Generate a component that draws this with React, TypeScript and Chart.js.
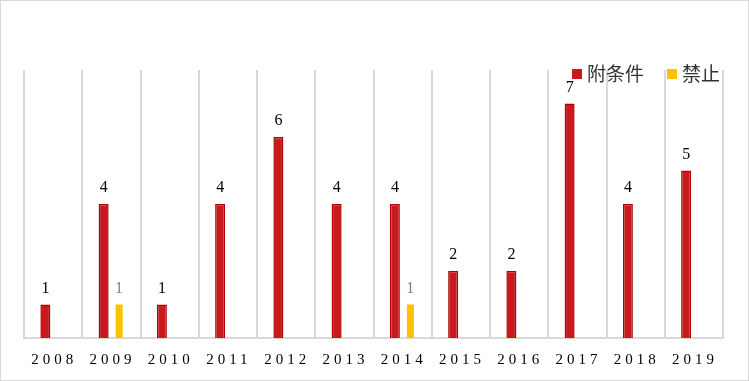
import React, { useEffect, useRef } from "react";
import { Chart, registerables } from "chart.js";

Chart.register(...registerables);

const years = ["2008", "2009", "2010", "2011", "2012", "2013", "2014", "2015", "2016", "2017", "2018", "2019"];
const conditional = [1, 4, 1, 4, 6, 4, 4, 2, 2, 7, 4, 5];
const banned = [null, 1, null, null, null, null, 1, null, null, null, null, null];
const seriesNames = ["附条件", "禁止"];
const seriesColors = ["#C8191C", "#FFC000"];
const labelColors = ["#000000", "#808080"];
const yMax = 8;

const labelPlugin = {
  id: "customLabels",
  afterDatasetsDraw(chart: any) {
    const ctx = chart.ctx;
    ctx.save();
    ctx.font = "16px 'Liberation Serif', 'Times New Roman', serif";
    ctx.textAlign = "center";
    ctx.textBaseline = "alphabetic";
    chart.data.datasets.forEach((ds: any, i: number) => {
      const meta = chart.getDatasetMeta(i);
      meta.data.forEach((el: any, j: number) => {
        const v = ds.data[j];
        if (v === null || v === undefined) return;
        ctx.fillStyle = labelColors[i];
        ctx.fillText(String(v), el.x, el.y - 12);
      });
    });
    ctx.restore();
  },
  afterDraw(chart: any) {
    const ctx = chart.ctx;
    const xs = chart.scales.x;
    const area = chart.chartArea;
    ctx.save();
    ctx.font = "15px 'Liberation Serif', 'Times New Roman', serif";
    ctx.fillStyle = "#000000";
    ctx.textAlign = "center";
    ctx.textBaseline = "middle";
    const sp = 4;
    try { (ctx as any).letterSpacing = sp + "px"; } catch (e) {}
    years.forEach((y, i) => {
      const x = xs.getPixelForValue(i);
      ctx.fillText(y, x + sp / 2 - 1, area.bottom + 22);
    });
    try { (ctx as any).letterSpacing = "0px"; } catch (e) {}
    ctx.font = "19px 'Noto Sans CJK SC', sans-serif";
    ctx.textAlign = "left";
    ctx.textBaseline = "middle";
    const ly = area.top + 4;
    const items = [
      { x: 571, name: seriesNames[0], color: seriesColors[0] },
      { x: 666, name: seriesNames[1], color: seriesColors[1] },
    ];
    items.forEach((it) => {
      ctx.fillStyle = it.color;
      ctx.fillRect(it.x, ly - 5, 10, 10);
      ctx.fillStyle = "#333333";
      ctx.fillText(it.name, it.x + 15, ly);
    });
    ctx.restore();
  },
};

export default function App() {
  const ref = useRef<HTMLCanvasElement>(null);
  useEffect(() => {
    if (!ref.current) return;
    const chart = new Chart(ref.current, {
      type: "bar",
      data: {
        labels: years,
        datasets: [
          {
            label: seriesNames[0],
            data: conditional,
            backgroundColor: seriesColors[0],
            borderColor: "#B00000",
            borderWidth: 1.5,
            categoryPercentage: 0.532,
            barPercentage: 0.645,
          },
          {
            label: seriesNames[1],
            data: banned as any,
            backgroundColor: seriesColors[1],
            borderWidth: 0,
            categoryPercentage: 0.532,
            barPercentage: 0.45,
          },
        ],
      },
      options: {
        animation: false,
        responsive: false,
        maintainAspectRatio: false,
        layout: { padding: { left: 23, right: 25, top: 69, bottom: 42 } },
        plugins: {
          legend: { display: false },
          tooltip: { enabled: false },
        },
        scales: {
          x: {
            offset: true,
            grid: {
              offset: true,
              color: "#D9D9D9",
              lineWidth: 2,
              drawTicks: false,
            },
            border: { display: true, color: "#D9D9D9", width: 2 },
            ticks: { display: false },
          },
          y: {
            display: false,
            min: 0,
            max: yMax,
          },
        },
      },
      plugins: [labelPlugin],
    });
    return () => chart.destroy();
  }, []);
  return (
    <div
      style={{
        position: "fixed",
        left: 0,
        top: 0,
        width: 749,
        height: 381,
        boxSizing: "border-box",
        border: "1px solid #D9D9D9",
        background: "#fff",
      }}
    >
      <canvas ref={ref} width={747} height={379} style={{ display: "block" }} />
    </div>
  );
}
